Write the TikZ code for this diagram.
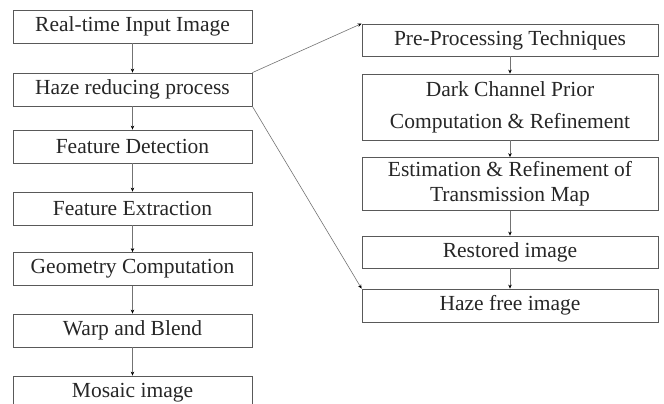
\documentclass[tikz,border=0pt]{standalone}
\usepackage{fontspec}
\setmainfont{Liberation Serif}
\usetikzlibrary{arrows.meta}
\begin{document}
\begin{tikzpicture}[x=1pt,y=-1pt,
  box/.style={draw=black!65, line width=0.8pt, rectangle, inner sep=0pt,
    font=\fontsize{21.5}{25}\selectfont, align=center, text=black!85},
  lbox/.style={box, minimum width=239pt, minimum height=33pt},
  rbox/.style={box, minimum width=296pt},
  conn/.style={draw=black!55, line width=0.6pt,
    -{Stealth[length=4pt,width=3.5pt,black]}}]
\useasboundingbox (0,0) rectangle (664,404);
\begin{scope}
\clip (0,0) rectangle (664,404);
% left column
\node[lbox] (l1) at (132.5,26.5) {Real-time Input Image};
\node[lbox] (l2) at (132.5,89.5) {Haze reducing process};
\node[lbox] (l3) at (132.5,146.5) {Feature Detection};
\node[lbox] (l4) at (132.5,208.5) {Feature Extraction};
\node[lbox] (l5) at (132.5,269) {Geometry Computation};
\node[lbox] (l6) at (132.5,330.5) {Warp and Blend};
\node[lbox] (l7) at (132.5,392.5) {Mosaic image};
% right column
\node[rbox, minimum height=32pt] (r1) at (510,40) {Pre-Processing Techniques};
\node[rbox, minimum height=66pt] (r2) at (510,107) {Dark Channel Prior\\[7pt]Computation \& Refinement};
\node[rbox, minimum height=53pt] (r3) at (510,184) {Estimation \& Refinement of\\Transmission Map};
\node[rbox, minimum height=32pt] (r4) at (510,252) {Restored image};
\node[rbox, minimum height=33pt] (r5) at (510,305.5) {Haze free image};
% connectors
\draw[conn] (l1) -- (l2);
\draw[conn] (l2) -- (l3);
\draw[conn] (l3) -- (l4);
\draw[conn] (l4) -- (l5);
\draw[conn] (l5) -- (l6);
\draw[conn] (l6) -- (l7);
\draw[conn] (r1) -- (r2);
\draw[conn] (r2) -- (r3);
\draw[conn] (r3) -- (r4);
\draw[conn] (r4) -- (r5);
\draw[conn] (l2.north east) -- (r1.north west);
\draw[conn] (l2.south east) -- (r5.north west);
\end{scope}
\end{tikzpicture}
\end{document}
